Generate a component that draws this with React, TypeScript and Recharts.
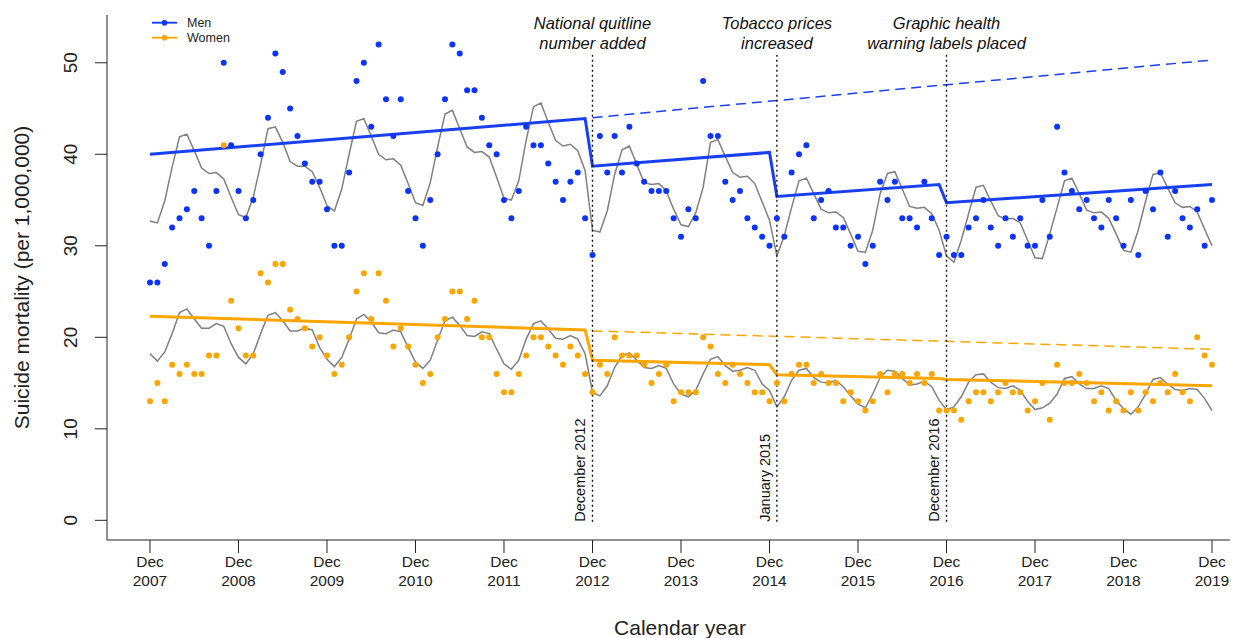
import { ComposedChart, Line, XAxis, YAxis, ReferenceLine } from "recharts";

// month index: 0 = Dec 2007 ... 144 = Dec 2019
const months = Array.from({ length: 145 }, (_, i) => i);

const tickMonths = [0, 12, 24, 36, 48, 60, 72, 84, 96, 108, 120, 132, 144];
const tickYears = ["2007", "2008", "2009", "2010", "2011", "2012", "2013", "2014", "2015", "2016", "2017", "2018", "2019"];

const menObserved = [
  26, 26, 28, 32, 33, 34, 36, 33, 30, 36, 50, 41, 36, 33, 35, 40, 44, 51, 49, 45, 42, 39, 37, 37, 34,
  30, 30, 38, 48, 50, 43, 52, 46, 42, 46, 36, 33, 30, 35, 40, 46, 52, 51, 47, 47, 44, 41, 40, 35,
  33, 36, 43, 41, 41, 39, 37, 35, 37, 38, 33, 29, 42, 38, 42, 38, 43, 39, 37, 36, 36, 36, 33, 31,
  34, 33, 48, 42, 42, 37, 35, 36, 33, 32, 31, 30, 33, 31, 38, 40, 41, 33, 35, 36, 32, 32, 30, 31,
  28, 30, 37, 35, 37, 33, 33, 32, 37, 33, 29, 31, 29, 29, 32, 33, 35, 32, 30, 33, 31, 33, 30, 30,
  35, 31, 43, 38, 36, 34, 35, 33, 32, 35, 33, 30, 35, 29, 36, 34, 38, 31, 36, 33, 32, 34, 30, 35,
];

const womenObserved = [
  13, 15, 13, 17, 16, 17, 16, 16, 18, 18, 41, 24, 21, 18, 18, 27, 26, 28, 28, 23, 22, 21, 19, 20, 18,
  16, 17, 20, 25, 27, 22, 27, 24, 19, 21, 19, 17, 15, 16, 20, 22, 25, 25, 22, 24, 20, 20, 16, 14,
  14, 16, 18, 20, 20, 19, 18, 17, 19, 18, 16, 14, 17, 16, 20, 18, 18, 18, 17, 15, 16, 17, 13, 14,
  14, 14, 20, 19, 16, 15, 17, 16, 15, 14, 14, 13, 15, 13, 16, 17, 17, 15, 16, 15, 15, 13, 14, 13,
  12, 13, 16, 14, 16, 16, 15, 16, 15, 16, 12, 12, 12, 11, 13, 14, 14, 13, 14, 15, 14, 14, 12, 13,
  15, 11, 17, 15, 15, 16, 15, 13, 14, 12, 13, 12, 14, 12, 14, 13, 15, 14, 16, 14, 13, 20, 18, 17,
];

const menFitted = [
  32.7, 32.5, 34.9, 38.6, 41.9, 42.2, 40.4, 38.5, 37.9, 38.0, 37.3, 35.3, 33.4, 33.1, 35.3, 38.9, 42.8, 43.0, 41.3, 39.2, 38.7, 38.7, 38.1, 36.4, 34.4,
  33.8, 36.2, 40.0, 43.6, 43.9, 42.0, 40.0, 39.4, 39.5, 38.8, 36.8, 34.7, 34.4, 36.9, 40.8, 44.4, 44.8, 42.8, 40.8, 40.2, 40.3, 39.7, 37.5, 35.2,
  35.0, 37.1, 41.5, 45.2, 45.6, 43.5, 41.5, 40.9, 41.1, 40.4, 38.2, 31.7, 31.5, 33.8, 37.8, 40.5, 40.9, 38.9, 36.9, 36.7, 36.8, 36.0, 34.0, 32.3,
  32.1, 33.6, 36.4, 41.3, 41.6, 39.8, 38.0, 37.5, 37.6, 36.8, 34.8, 32.8, 28.9, 31.1, 34.2, 37.1, 37.4, 35.7, 34.0, 33.6, 33.7, 33.1, 31.3, 29.4,
  29.3, 31.7, 35.7, 37.9, 38.1, 36.2, 34.3, 34.1, 34.2, 33.5, 31.7, 28.9, 28.2, 30.6, 33.5, 36.4, 36.6, 34.9, 33.3, 32.9, 33.0, 32.5, 30.6, 28.7,
  28.6, 31.3, 34.2, 37.1, 37.4, 35.7, 33.9, 33.6, 33.7, 33.0, 31.3, 29.5, 29.3, 31.7, 34.9, 37.8, 38.0, 36.3, 34.7, 34.2, 34.3, 33.7, 31.8, 30.0,
];

const womenFitted = [
  18.2, 17.4, 18.4, 20.4, 22.7, 23.1, 22.0, 21.0, 21.0, 21.5, 21.2, 19.3, 17.8, 17.1, 18.2, 20.4, 22.4, 22.7, 21.8, 20.7, 20.7, 21.0, 20.8, 18.9, 17.6,
  16.8, 17.8, 19.8, 22.0, 22.5, 21.7, 20.5, 20.4, 20.8, 20.6, 18.9, 17.3, 16.6, 17.5, 19.7, 21.8, 22.2, 21.3, 20.2, 20.1, 20.6, 20.4, 18.7, 17.1,
  16.5, 17.5, 19.8, 21.5, 21.8, 20.9, 19.9, 19.8, 20.2, 19.8, 18.2, 14.0, 13.6, 14.7, 16.7, 18.0, 18.3, 17.5, 16.7, 16.6, 16.9, 16.6, 14.9, 13.8,
  13.5, 14.2, 16.0, 17.6, 17.9, 16.9, 16.3, 16.4, 16.7, 16.4, 14.9, 14.2, 12.4, 13.5, 15.3, 16.4, 16.6, 15.6, 15.1, 15.0, 15.3, 14.6, 13.6, 12.7,
  12.3, 13.8, 15.6, 16.4, 16.3, 15.5, 14.8, 14.9, 15.2, 14.6, 13.1, 12.1, 12.4, 13.5, 15.1, 15.9, 16.0, 15.1, 14.5, 14.4, 14.7, 14.2, 13.0, 12.1,
  12.3, 12.8, 13.8, 15.5, 15.7, 14.9, 14.4, 14.4, 14.7, 14.4, 13.1, 12.2, 11.6, 12.4, 13.8, 15.4, 15.6, 14.9, 14.3, 14.2, 14.4, 14.3, 13.3, 12.0,
];

// segmented regression lines, values at segment ends
const trendMonths = [0, 59, 60, 84, 85, 107, 108, 144];
const menTrend = [40.0, 43.9, 38.7, 40.2, 35.4, 36.7, 34.7, 36.7];
const womenTrend = [22.3, 20.8, 17.5, 17.0, 15.9, 15.5, 15.4, 14.7];

// counterfactual (no intervention)
const cfMonths = [60, 144];
const menCounterfactual = [44.0, 50.3];
const womenCounterfactual = [20.7, 18.7];

const eventMonths = [60, 85, 108];
const eventDates = ["December 2012", "January 2015", "December 2016"];
const eventTitles = [
  ["National quitline", "number added"],
  ["Tobacco prices", "increased"],
  ["Graphic health", "warning labels placed"],
];

const BLUE = "#0a34fa";
const BLUE_LINE = "#1840f0";
const ORANGE = "#ffa500";
const GRAY = "#808080";
const FONT = "'Liberation Sans', Arial, Helvetica, sans-serif";

const rows = months.map((m) => {
  const t = trendMonths.indexOf(m);
  const c = cfMonths.indexOf(m);
  return {
    m,
    men: menObserved[m],
    women: womenObserved[m],
    menFit: menFitted[m],
    womenFit: womenFitted[m],
    menTrend: t >= 0 ? menTrend[t] : null,
    womenTrend: t >= 0 ? womenTrend[t] : null,
    menCf: c >= 0 ? menCounterfactual[c] : null,
    womenCf: c >= 0 ? womenCounterfactual[c] : null,
  };
});

function XTick({ x, y, payload }: any) {
  const i = tickMonths.indexOf(payload.value);
  return (
    <g fontFamily={FONT} fontSize={15.5} fill="#222">
      <text x={x} y={y + 14} textAnchor="middle">Dec</text>
      <text x={x} y={y + 33} textAnchor="middle">{tickYears[i]}</text>
    </g>
  );
}

function YTick({ x, y, payload }: any) {
  const tx = x - 18;
  return (
    <text x={tx} y={y} transform={`rotate(-90, ${tx}, ${y})`} textAnchor="middle" fontFamily={FONT} fontSize={19} fill="#222">
      {payload.value}
    </text>
  );
}

function EventLabel({ viewBox, i }: any) {
  const x = viewBox.x;
  const bottom = viewBox.y + viewBox.height;
  return (
    <g fontFamily={FONT} fill="#111">
      <text x={x} y={29} textAnchor="middle" fontSize={16.5} fontStyle="italic">{eventTitles[i][0]}</text>
      <text x={x} y={48.5} textAnchor="middle" fontSize={16.5} fontStyle="italic">{eventTitles[i][1]}</text>
      <text x={x - 7} y={bottom} transform={`rotate(-90, ${x - 7}, ${bottom})`} textAnchor="start" fontSize={14.5}>
        {eventDates[i]}
      </text>
    </g>
  );
}

function Legend() {
  const items = [
    { name: "Men", color: BLUE },
    { name: "Women", color: ORANGE },
  ];
  return (
    <svg width={260} height={50} style={{ position: "absolute", left: 0, top: 0 }}>
      {items.map((it, i) => (
        <g key={it.name}>
          <line x1={152} x2={177} y1={22.7 + 15 * i} y2={22.7 + 15 * i} stroke={it.color} strokeWidth={1.8} />
          <circle cx={164.5} cy={22.7 + 15 * i} r={2.8} fill={it.color} />
          <text x={187} y={27 + 15 * i} fontFamily={FONT} fontSize={12.5} fill="#222">{it.name}</text>
        </g>
      ))}
    </svg>
  );
}

export default function App() {
  return (
    <div style={{ position: "absolute", left: 0, top: 0, width: 1244, height: 638, background: "#fff" }}>
      <ComposedChart width={1244} height={638} data={rows} margin={{ top: 15, right: 14, bottom: 0, left: 0 }}>
        <XAxis
          dataKey="m"
          type="number"
          domain={[-5.83, 146.44]}
          ticks={tickMonths}
          interval={0}
          allowDataOverflow
          height={98}
          tickSize={13}
          tickMargin={0}
          stroke="#222"
          tick={<XTick />}
          label={{
            content: ({ viewBox }: any) => (
              <text x={viewBox.x + 573} y={635} textAnchor="middle" fontFamily={FONT} fontSize={21} fill="#222">
                Calendar year
              </text>
            ),
          }}
        />
        <YAxis
          type="number"
          domain={[-2.15, 55.22]}
          ticks={[0, 10, 20, 30, 40, 50]}
          interval={0}
          allowDataOverflow
          width={107}
          tickSize={12}
          tickMargin={0}
          stroke="#222"
          tick={<YTick />}
          label={{
            content: ({ viewBox }: any) => {
              const cx = viewBox.x + 28.5;
              const cy = viewBox.y + viewBox.height / 2;
              return (
                <text x={cx} y={cy} transform={`rotate(-90, ${cx}, ${cy})`} textAnchor="middle" fontFamily={FONT} fontSize={21} fill="#222">
                  Suicide mortality (per 1,000,000)
                </text>
              );
            },
          }}
        />
        <Line dataKey="menFit" stroke={GRAY} strokeWidth={1.5} dot={false} activeDot={false} isAnimationActive={false} />
        <Line dataKey="womenFit" stroke={GRAY} strokeWidth={1.5} dot={false} activeDot={false} isAnimationActive={false} />
        <Line dataKey="menCf" stroke={BLUE_LINE} strokeWidth={1.5} strokeDasharray="10 6" connectNulls dot={false} activeDot={false} isAnimationActive={false} />
        <Line dataKey="womenCf" stroke={ORANGE} strokeWidth={1.5} strokeDasharray="10 6" connectNulls dot={false} activeDot={false} isAnimationActive={false} />
        <Line dataKey="menTrend" stroke={BLUE_LINE} strokeWidth={3} connectNulls dot={false} activeDot={false} isAnimationActive={false} />
        <Line dataKey="womenTrend" stroke={ORANGE} strokeWidth={3} connectNulls dot={false} activeDot={false} isAnimationActive={false} />
        <Line dataKey="men" stroke="none" dot={{ r: 3, fill: BLUE, stroke: "none" }} activeDot={false} isAnimationActive={false} />
        <Line dataKey="women" stroke="none" dot={{ r: 3, fill: ORANGE, stroke: "none" }} activeDot={false} isAnimationActive={false} />
        {eventMonths.map((em, i) => (
          <ReferenceLine
            key={em}
            segment={[{ x: em, y: -0.15 }, { x: em, y: 50.85 }]}
            stroke="#111"
            strokeWidth={1.4}
            strokeDasharray="2 3"
            label={<EventLabel i={i} />}
          />
        ))}
      </ComposedChart>
      <Legend />
    </div>
  );
}
